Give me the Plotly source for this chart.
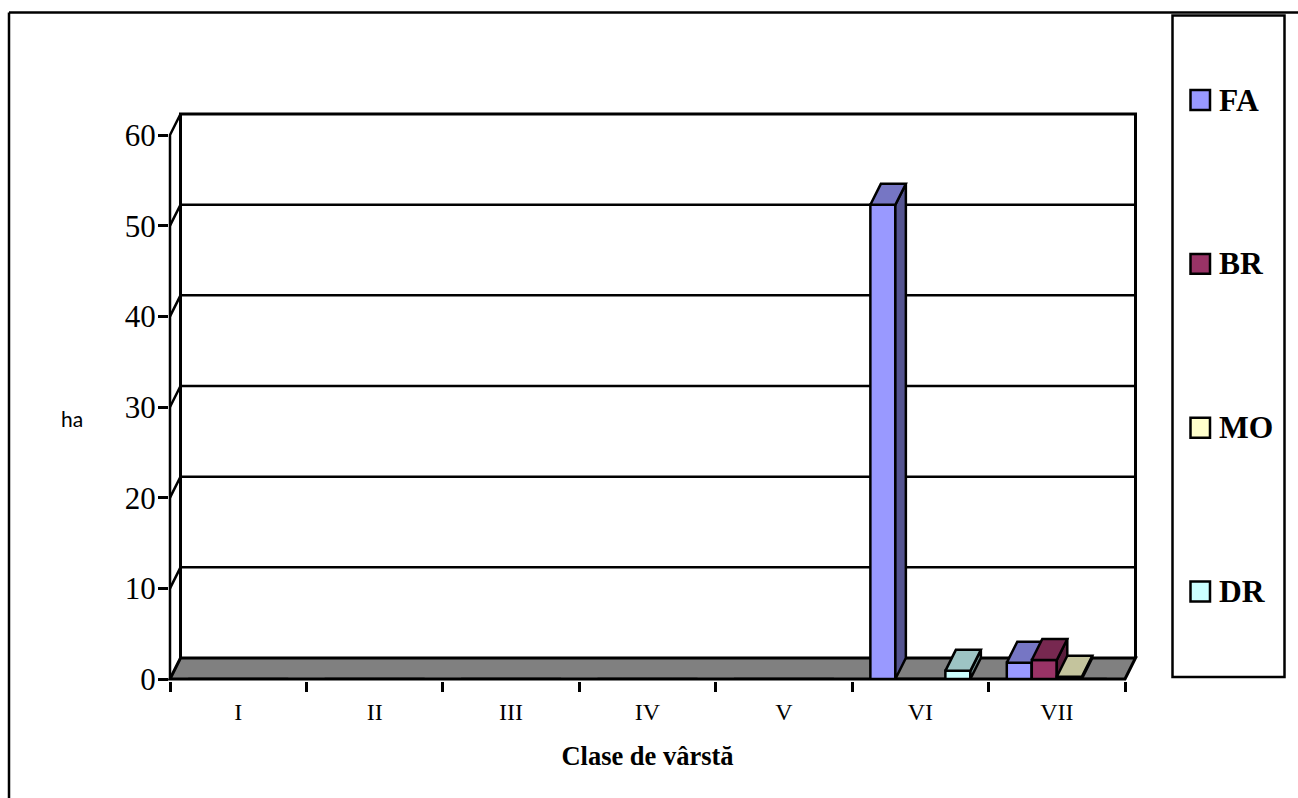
import plotly.graph_objects as go

categories = ["I", "II", "III", "IV", "V", "VI", "VII"]
series_names = ["FA", "BR", "MO", "DR"]
fa_values = [0, 0, 0, 0, 0, 52.3, 1.8]
br_values = [0, 0, 0, 0, 0, 0, 2.1]
mo_values = [0, 0, 0, 0, 0, 0, 0.25]
dr_values = [0, 0, 0, 0, 0, 0.9, 0]
y_ticks = [0, 10, 20, 30, 40, 50, 60]
front_colors = ["#9999FF", "#993366", "#FFFFCC", "#CCFFFF"]
top_colors = ["#7676C4", "#772850", "#C4C49D", "#9DC4C4"]
side_colors = ["#545490", "#5A1E3C", "#8C8C70", "#708C8C"]
floor_color = "#808080"
all_values = [fa_values, br_values, mo_values, dr_values]

W, H = 1298, 798
L, R, T, B = 170, 1125, 134.5, 679
SERIF = "Liberation Serif"
px_x = (R - L) / len(categories)
px_y = (B - T) / 60
DX = 10.5 / px_x          # depth offset, x data units
DY = 21 / px_y            # depth offset, y data units
BAR = 25 / px_x           # bar width, x data units
X0, X1 = -0.5, 6.5
Y1 = 60


def xp(p):
    return (p - L) / (R - L)


def yp(p):
    return (B - p) / (B - T)


def dx(v):
    return (v - X0) / (X1 - X0)


def dy(v):
    return v / Y1


def wall(points, fill=None, lw=2.5):
    """Unclipped chart-wall outline given in axis values, drawn under the bars."""
    path = "M" + "L".join(f"{dx(a)},{dy(b)}" for a, b in points)
    return dict(type="path", xref="paper", yref="paper", path=path + ("Z" if fill else ""),
                fillcolor=fill, layer="below", line=dict(color="black", width=lw))


fig = go.Figure()


def poly(xs, ys, fill, lw=2.5, z=0):
    fig.add_trace(go.Scatter(
        x=xs, y=ys, mode="lines", fill="toself", fillcolor=fill,
        line=dict(color="black", width=lw), showlegend=False,
        hoverinfo="skip", zorder=z))


# bars: one front (real bar trace), plus side and top faces from the same values
for i, (name, vals) in enumerate(zip(series_names, all_values)):
    z = i + 1
    fig.add_trace(go.Bar(
        x=list(range(len(categories))), y=vals, name=name, zorder=z,
        marker=dict(color=front_colors[i], line=dict(color="black", width=2.5)),
        showlegend=False))
    for c, v in enumerate(vals):
        if v <= 0:
            continue
        a = c + (i - 2) * BAR
        b = a + BAR
        poly([b, b + DX, b + DX, b, b], [0, DY, v + DY, v, 0], side_colors[i], 2.5, z)
        poly([a, a + DX, b + DX, b, a], [v, v + DY, v + DY, v, v], top_colors[i], 2.5, z)

shapes = [
    wall([(X0, 0), (X0 + DX, DY), (X1 + DX, DY), (X1, 0)], floor_color, 3),
    wall([(X0 + DX, DY), (X0 + DX, Y1 + DY), (X1 + DX, Y1 + DY), (X1 + DX, DY)], None, 3),
    wall([(X0, 0), (X0, Y1), (X0 + DX, Y1 + DY)], None, 2.5),
]
for t in y_ticks[1:-1]:
    shapes.append(wall([(X0, t), (X0 + DX, t + DY), (X1 + DX, t + DY)], None, 2.5))
shapes += [
    # outer frame
    dict(type="line", xref="paper", yref="paper", x0=xp(9), x1=xp(W), y0=yp(12), y1=yp(12),
         line=dict(color="black", width=2.5)),
    dict(type="line", xref="paper", yref="paper", x0=xp(9), x1=xp(9), y0=yp(12), y1=yp(H),
         line=dict(color="black", width=2.5)),
    # legend box
    dict(type="rect", xref="paper", yref="paper", x0=xp(1172.5), x1=xp(1284.5), y0=yp(15), y1=yp(677),
         line=dict(color="black", width=2.5), fillcolor="white"),
]
annotations = [
    dict(text="ha", xref="paper", yref="paper", x=xp(72), y=yp(418), showarrow=False,
         font=dict(family="Lato", size=21, color="black"), xanchor="center", yanchor="middle"),
]
for i, name in enumerate(series_names):
    cy = 99.5 + 164 * i
    shapes.append(dict(type="rect", xref="paper", yref="paper", x0=xp(1190.5), x1=xp(1210), y0=yp(cy - 10),
                       y1=yp(cy + 10), fillcolor=front_colors[i], line=dict(color="black", width=2.5)))
    annotations.append(dict(text=f"<b>{name}</b>", xref="paper", yref="paper", x=xp(1218.5), y=yp(cy),
                            showarrow=False, xanchor="left", yanchor="middle", xshift=-2,
                            font=dict(family=SERIF, size=31.5, color="black")))

fig.update_layout(
    width=W, height=H, autosize=False, paper_bgcolor="white", plot_bgcolor="rgba(0,0,0,0)",
    margin=dict(l=L, r=W - R, t=T, b=H - B, pad=0),
    barmode="group", bargap=1 - 4 * BAR, bargroupgap=0, showlegend=False,
    shapes=shapes, annotations=annotations,
    xaxis=dict(
        range=[X0, X1], tickmode="array", tickvals=list(range(len(categories))), ticktext=categories,
        ticks="", tickfont=dict(family=SERIF, size=24, color="black"), ticklabelstandoff=9,
        minor=dict(tickmode="array", tickvals=[k - 0.5 for k in range(len(categories) + 1)],
                   ticks="outside", ticklen=10, tickwidth=2.5, tickcolor="black", showgrid=False),
        showgrid=False, zeroline=False, showline=True, linecolor="black", linewidth=3,
        title=dict(text="<b>Clase de vârstă</b>", font=dict(family=SERIF, size=26.5, color="black"), standoff=23),
        automargin=False),
    yaxis=dict(
        range=[0, Y1], tickmode="array", tickvals=y_ticks, ticks="outside", ticklen=10, tickwidth=2.5,
        tickcolor="black", tickfont=dict(family=SERIF, size=31, color="black"), ticklabelstandoff=-4,
        showgrid=False, zeroline=False, showline=True, linecolor="black", linewidth=2, automargin=False),
)

fig.write_html("out.html", config=dict(displayModeBar=False),
               post_script="document.body.style.margin='0';document.documentElement.style.overflow='hidden';")
